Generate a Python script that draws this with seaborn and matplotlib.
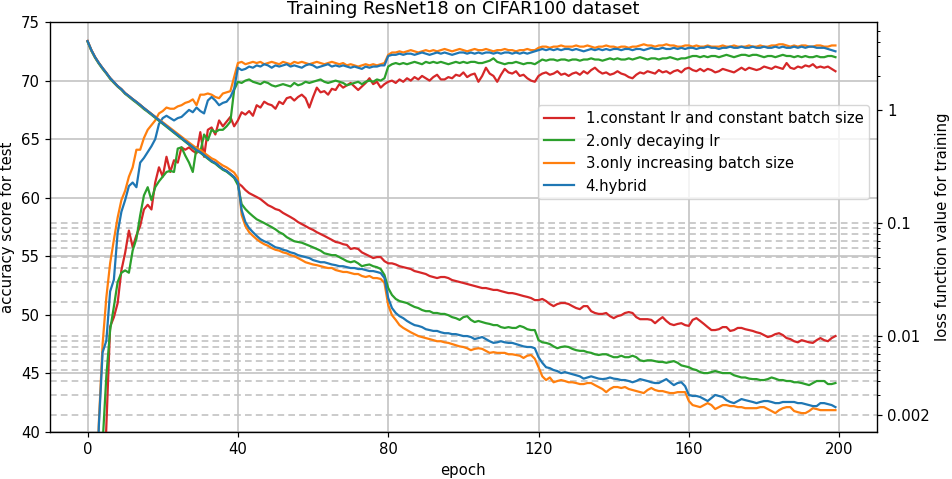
import matplotlib
matplotlib.use("Agg")
import matplotlib.pyplot as plt
import matplotlib.transforms as mtransforms
from matplotlib.lines import Line2D
from matplotlib.ticker import FixedLocator, FixedFormatter, NullFormatter
import pandas as pd
import seaborn as sns

methods = ["1.constant lr and constant batch size", "2.only decaying lr",
           "3.only increasing batch size", "4.hybrid"]
colors = ["#d62728", "#2ca02c", "#ff7f0e", "#1f77b4"]
epochs = list(range(200))

acc_constant = [
    8, 14, 20, 26, 32, 40.5, 49.0, 49.8, 51.0, 53.8,
    55.3, 57.2, 55.8, 56.8, 57.6, 59.0, 59.4, 59.0, 61.3, 62.6,
    61.8, 63.5, 62.2, 63.2, 63.0, 64.3, 64.1, 64.3, 64.0, 63.8,
    65.6, 63.5, 65.8, 66.0, 65.4, 66.6, 66.1, 66.5, 66.9, 66.1,
    66.6, 67.3, 67.1, 67.4, 67.0, 67.9, 67.7, 68.2, 68.0, 67.9,
    67.6, 68.2, 68.0, 68.5, 68.6, 68.3, 68.6, 68.8, 68.5, 67.7,
    68.6, 69.4, 69.0, 69.1, 68.8, 69.3, 69.2, 69.7, 69.4, 69.6,
    69.8, 69.5, 69.2, 69.5, 69.8, 70.2, 69.7, 69.9, 69.4, 69.7,
    69.9, 70.0, 69.8, 70.1, 69.9, 70.2, 70.0, 70.3, 70.1, 70.4,
    70.2, 70.0, 70.3, 70.5, 70.1, 70.1, 70.3, 70.2, 70.5, 70.4,
    70.7, 70.3, 70.5, 70.6, 69.9, 70.4, 71.1, 70.6, 70.4, 69.9,
    70.5, 71.0, 70.7, 70.6, 70.8, 70.4, 70.5, 70.2, 70.0, 69.9,
    70.4, 70.6, 70.7, 70.5, 70.6, 70.8, 70.5, 70.6, 70.4, 70.6,
    70.7, 70.5, 70.8, 70.6, 70.9, 71.1, 70.8, 70.6, 70.7, 70.5,
    70.6, 70.8, 70.6, 70.5, 70.3, 70.2, 70.5, 70.7, 70.6, 70.8,
    70.7, 70.6, 70.9, 70.7, 70.8, 70.6, 70.8, 70.9, 70.7, 71.0,
    71.1, 70.9, 70.8, 71.0, 70.8, 71.0, 70.9, 70.7, 70.8, 71.0,
    70.9, 70.8, 70.7, 70.9, 71.1, 70.9, 71.1, 71.0, 70.9, 71.0,
    71.2, 71.1, 71.0, 71.2, 71.1, 71.0, 71.5, 71.1, 71.0, 71.2,
    71.1, 71.3, 71.2, 71.4, 71.1, 71.2, 71.1, 71.2, 71.0, 70.8,
]
acc_decay = [
    10, 17, 24, 31, 39, 44.8, 48.7, 50.7, 52.8, 53.6,
    53.8, 53.6, 55.5, 56.5, 58.5, 60.2, 60.9, 59.8, 60.9, 61.4,
    61.8, 62.2, 62.3, 62.2, 64.2, 64.3, 63.6, 63.0, 62.2, 64.3,
    63.9, 65.4, 64.9, 65.8, 65.6, 65.8, 65.8, 66.1, 66.5, 69.2,
    69.9, 69.8, 70.0, 70.1, 69.9, 69.8, 69.7, 69.9, 69.8, 69.6,
    69.5, 69.6, 69.7, 69.6, 69.5, 69.8, 69.6, 69.7, 69.9, 69.8,
    69.9, 70.0, 70.1, 69.9, 69.8, 69.9, 70.0, 69.9, 69.8, 69.6,
    69.7, 69.8, 69.9, 69.7, 69.9, 70.0, 69.9, 70.1, 70.0, 70.2,
    71.2, 71.4, 71.5, 71.4, 71.5, 71.4, 71.5, 71.6, 71.5, 71.4,
    71.6, 71.5, 71.6, 71.5, 71.6, 71.5, 71.4, 71.5, 71.6, 71.5,
    71.6, 71.5, 71.6, 71.6, 71.5, 71.5, 71.6, 71.7, 71.9, 71.6,
    71.5, 71.4, 71.5, 71.5, 71.6, 71.5, 71.4, 71.5, 71.5, 71.4,
    71.6, 71.8, 71.7, 71.8, 71.8, 71.7, 71.8, 71.8, 71.7, 71.8,
    71.8, 71.7, 71.8, 71.8, 71.9, 71.8, 71.8, 71.7, 71.8, 71.9,
    71.8, 71.9, 71.8, 71.8, 71.9, 71.8, 71.9, 72.0, 71.9, 71.8,
    71.9, 71.9, 71.8, 71.9, 71.9, 72.0, 71.9, 71.8, 71.9, 71.9,
    72.0, 72.1, 72.1, 72.0, 72.1, 72.0, 72.1, 72.1, 72.0, 72.1,
    72.2, 72.1, 72.0, 72.1, 72.2, 72.2, 72.1, 72.2, 72.2, 72.1,
    72.0, 72.1, 72.1, 72.0, 72.1, 72.2, 72.1, 72.1, 72.0, 72.1,
    72.0, 72.1, 72.0, 72.0, 72.1, 72.0, 72.0, 72.1, 72.1, 72.0,
]
acc_batch = [
    14, 22, 31, 40.8, 47.5, 51.5, 54.4, 56.4, 58.3, 59.8,
    60.6, 61.8, 62.6, 64.1, 64.1, 65.1, 65.8, 66.2, 66.6, 67.2,
    67.4, 67.7, 67.6, 67.6, 67.8, 67.9, 68.1, 68.2, 68.4, 67.9,
    68.8, 68.8, 68.9, 68.8, 68.6, 68.5, 68.9, 69.0, 69.1, 70.3,
    71.5, 71.6, 71.4, 71.5, 71.6, 71.5, 71.6, 71.4, 71.5, 71.6,
    71.5, 71.4, 71.6, 71.5, 71.4, 71.6, 71.5, 71.6, 71.5, 71.4,
    71.5, 71.6, 71.5, 71.4, 71.5, 71.6, 71.5, 71.4, 71.5, 71.3,
    71.4, 71.3, 71.2, 71.3, 71.4, 71.3, 71.4, 71.3, 71.4, 71.5,
    72.2, 72.4, 72.4, 72.5, 72.4, 72.5, 72.6, 72.5, 72.4, 72.5,
    72.6, 72.5, 72.6, 72.5, 72.6, 72.7, 72.6, 72.5, 72.6, 72.7,
    72.6, 72.5, 72.6, 72.7, 72.6, 72.6, 72.7, 72.6, 72.5, 72.6,
    72.6, 72.7, 72.6, 72.6, 72.5, 72.6, 72.6, 72.7, 72.6, 72.6,
    72.8, 72.9, 72.9, 72.8, 72.9, 72.9, 73.0, 72.9, 72.9, 72.9,
    73.0, 72.9, 72.9, 73.0, 72.9, 72.8, 72.9, 72.9, 73.0, 72.9,
    72.9, 72.8, 72.9, 72.9, 72.8, 72.9, 72.9, 73.0, 73.1, 73.0,
    73.0, 72.9, 73.0, 73.0, 73.1, 73.0, 73.0, 72.9, 72.9, 73.0,
    73.0, 72.9, 73.0, 72.9, 72.9, 73.0, 72.9, 72.9, 72.9, 73.0,
    72.9, 72.9, 73.0, 72.9, 72.9, 72.9, 73.0, 72.9, 72.9, 73.0,
    72.9, 72.9, 73.0, 73.0, 73.1, 73.1, 73.0, 72.9, 73.0, 72.9,
    73.0, 73.0, 72.9, 72.9, 73.0, 73.0, 72.9, 72.9, 73.0, 73.0,
]
acc_hybrid = [
    12, 20, 30, 40.5, 46.8, 47.8, 52.0, 53.0, 57.0, 58.8,
    59.8, 61.0, 61.3, 60.9, 63.0, 63.4, 63.9, 64.4, 65.0, 66.3,
    66.8, 67.0, 66.8, 66.6, 66.8, 66.9, 67.2, 67.5, 67.3, 67.7,
    67.4, 67.2, 68.3, 68.6, 68.3, 67.9, 68.1, 68.2, 68.6, 69.3,
    71.1, 70.9, 71.0, 71.2, 71.1, 71.3, 71.2, 71.4, 71.3, 71.1,
    71.3, 71.2, 71.3, 71.4, 71.2, 71.3, 71.2, 71.1, 71.3, 71.4,
    71.3, 71.1, 71.2, 71.3, 71.4, 71.2, 71.3, 71.2, 71.3, 71.2,
    71.1, 71.2, 71.1, 71.0, 71.2, 71.1, 71.2, 71.2, 71.3, 71.3,
    72.1, 72.2, 72.2, 72.3, 72.2, 72.3, 72.3, 72.2, 72.3, 72.4,
    72.3, 72.2, 72.3, 72.4, 72.3, 72.4, 72.3, 72.2, 72.3, 72.4,
    72.4, 72.3, 72.4, 72.3, 72.4, 72.3, 72.4, 72.4, 72.3, 72.4,
    72.3, 72.4, 72.4, 72.3, 72.4, 72.3, 72.4, 72.3, 72.4, 72.5,
    72.6, 72.7, 72.6, 72.7, 72.6, 72.7, 72.6, 72.7, 72.7, 72.6,
    72.7, 72.6, 72.5, 72.6, 72.7, 72.6, 72.7, 72.6, 72.7, 72.6,
    72.7, 72.7, 72.6, 72.7, 72.7, 72.6, 72.7, 72.7, 72.6, 72.7,
    72.8, 72.7, 72.7, 72.8, 72.7, 72.7, 72.8, 72.7, 72.8, 72.7,
    72.8, 72.8, 72.7, 72.8, 72.8, 72.9, 72.8, 72.8, 72.7, 72.8,
    72.8, 72.9, 72.8, 72.8, 72.9, 72.8, 72.8, 72.9, 72.8, 72.8,
    72.9, 72.8, 72.8, 72.9, 72.8, 72.9, 72.8, 72.8, 72.9, 72.8,
    72.9, 72.8, 72.9, 72.9, 72.8, 72.8, 72.8, 72.7, 72.6, 72.5,
]

loss_constant = [
    4.08, 3.40, 2.94, 2.61, 2.35, 2.13, 1.92, 1.77, 1.63, 1.53,
    1.41, 1.33, 1.25, 1.18, 1.11, 1.04, 0.98, 0.922, 0.867, 0.816,
    0.767, 0.722, 0.679, 0.639, 0.601, 0.565, 0.532, 0.500, 0.471, 0.443,
    0.425, 0.400, 0.376, 0.354, 0.340, 0.319, 0.301, 0.289, 0.272, 0.255,
    0.226, 0.213, 0.196, 0.184, 0.177, 0.170, 0.163, 0.153, 0.144, 0.139,
    0.133, 0.130, 0.123, 0.118, 0.113, 0.108, 0.102, 0.098, 0.094, 0.090,
    0.087, 0.083, 0.080, 0.077, 0.074, 0.071, 0.068, 0.067, 0.065, 0.064,
    0.059, 0.060, 0.059, 0.055, 0.053, 0.051, 0.049, 0.050, 0.050, 0.046,
    0.044, 0.044, 0.043, 0.0415, 0.0407, 0.0400, 0.0392, 0.0376, 0.0369, 0.0361,
    0.0354, 0.0340, 0.0333, 0.0326, 0.0333, 0.0333, 0.0326, 0.0313, 0.0307, 0.0301,
    0.0295, 0.0289, 0.0283, 0.0277, 0.0272, 0.0266, 0.0266, 0.0261, 0.0256, 0.0256,
    0.0250, 0.0245, 0.0240, 0.0240, 0.0236, 0.0231, 0.0226, 0.0222, 0.0217, 0.0208,
    0.0208, 0.0213, 0.0204, 0.0192, 0.0184, 0.0192, 0.0196, 0.0196, 0.0192, 0.0184,
    0.0177, 0.0173, 0.0184, 0.0184, 0.0166, 0.0160, 0.0157, 0.0157, 0.0160, 0.0150,
    0.0144, 0.0150, 0.0153, 0.0160, 0.0163, 0.0160, 0.0147, 0.0141, 0.0141, 0.0141,
    0.0139, 0.0130, 0.0139, 0.0147, 0.0136, 0.0128, 0.0125, 0.0128, 0.0130, 0.0125,
    0.0123, 0.0139, 0.0144, 0.0136, 0.0128, 0.0120, 0.0113, 0.0113, 0.0115, 0.0120,
    0.0120, 0.0111, 0.0113, 0.0118, 0.0118, 0.0115, 0.0113, 0.0111, 0.0108, 0.0106,
    0.0102, 0.0098, 0.0100, 0.0104, 0.0106, 0.0102, 0.0096, 0.0094, 0.0090, 0.0088,
    0.0092, 0.0090, 0.0088, 0.0087, 0.0092, 0.0096, 0.0092, 0.0090, 0.0096, 0.0100,
]
loss_decay = [
    4.02, 3.35, 2.90, 2.57, 2.31, 2.10, 1.89, 1.74, 1.61, 1.51,
    1.39, 1.31, 1.23, 1.16, 1.09, 1.02, 0.965, 0.908, 0.854, 0.804,
    0.756, 0.711, 0.669, 0.629, 0.592, 0.557, 0.524, 0.493, 0.464, 0.436,
    0.419, 0.394, 0.370, 0.349, 0.335, 0.314, 0.296, 0.285, 0.268, 0.251,
    0.217, 0.147, 0.133, 0.123, 0.115, 0.108, 0.104, 0.100, 0.096, 0.092,
    0.088, 0.083, 0.080, 0.075, 0.072, 0.069, 0.068, 0.067, 0.065, 0.063,
    0.061, 0.059, 0.057, 0.054, 0.053, 0.052, 0.052, 0.050, 0.048, 0.046,
    0.045, 0.046, 0.044, 0.0415, 0.0424, 0.043, 0.0415, 0.0407, 0.0392, 0.0347,
    0.0266, 0.0231, 0.0213, 0.0204, 0.0200, 0.0196, 0.0188, 0.0181, 0.0177, 0.0170,
    0.0166, 0.0166, 0.0160, 0.0160, 0.0157, 0.0157, 0.0153, 0.0147, 0.0144, 0.0139,
    0.0147, 0.0150, 0.0139, 0.0133, 0.0136, 0.0133, 0.0130, 0.0128, 0.0125, 0.0125,
    0.0120, 0.0118, 0.0120, 0.0118, 0.0118, 0.0123, 0.0120, 0.0115, 0.0113, 0.0113,
    0.0092, 0.0088, 0.0087, 0.0085, 0.0081, 0.0078, 0.0080, 0.0081, 0.0080, 0.0077,
    0.0075, 0.0074, 0.0074, 0.0072, 0.0071, 0.0069, 0.0068, 0.0069, 0.0069, 0.0067,
    0.0065, 0.0065, 0.0067, 0.0065, 0.0065, 0.0067, 0.0065, 0.0061, 0.0060, 0.0061,
    0.0061, 0.0060, 0.0059, 0.0059, 0.0058, 0.0059, 0.0060, 0.0058, 0.0055, 0.0054,
    0.0053, 0.0051, 0.0050, 0.0048, 0.0047, 0.0047, 0.0048, 0.0049, 0.0048, 0.0047,
    0.0047, 0.0047, 0.0045, 0.0044, 0.0043, 0.0043, 0.0042, 0.00416, 0.00416, 0.00408,
    0.00408, 0.00416, 0.0043, 0.0042, 0.00408, 0.00408, 0.0040, 0.0040, 0.0039, 0.0039,
    0.00384, 0.00376, 0.00368, 0.00384, 0.0040, 0.0040, 0.0040, 0.00376, 0.00376, 0.00384,
]
loss_batch = [
    4.08, 3.40, 2.94, 2.61, 2.35, 2.13, 1.92, 1.77, 1.63, 1.53,
    1.41, 1.33, 1.25, 1.18, 1.11, 1.04, 0.98, 0.925, 0.872, 0.822,
    0.780, 0.735, 0.693, 0.652, 0.615, 0.580, 0.547, 0.516, 0.487, 0.460,
    0.443, 0.419, 0.396, 0.374, 0.361, 0.340, 0.323, 0.311, 0.295, 0.280,
    0.250, 0.118, 0.094, 0.083, 0.077, 0.072, 0.068, 0.065, 0.063, 0.060,
    0.058, 0.057, 0.055, 0.054, 0.052, 0.051, 0.049, 0.047, 0.045, 0.044,
    0.043, 0.0424, 0.0415, 0.0407, 0.0400, 0.0400, 0.0384, 0.0376, 0.0369, 0.0369,
    0.0361, 0.0354, 0.0354, 0.0340, 0.0333, 0.0340, 0.0326, 0.0326, 0.0320, 0.0295,
    0.0188, 0.0153, 0.0139, 0.0125, 0.0118, 0.0113, 0.0108, 0.0104, 0.0100, 0.0098,
    0.0096, 0.0094, 0.0092, 0.0090, 0.0090, 0.0088, 0.0087, 0.0085, 0.0083, 0.0081,
    0.0080, 0.0078, 0.0075, 0.0077, 0.0078, 0.0077, 0.0074, 0.0071, 0.0072, 0.0071,
    0.0071, 0.0071, 0.0069, 0.0069, 0.0068, 0.0067, 0.0064, 0.0067, 0.0068, 0.0063,
    0.0053, 0.0044, 0.00408, 0.0043, 0.0039, 0.0040, 0.00408, 0.0040, 0.0039, 0.0039,
    0.00384, 0.00376, 0.00376, 0.00384, 0.00384, 0.00368, 0.00354, 0.00340, 0.00319, 0.00340,
    0.00354, 0.00354, 0.00347, 0.00354, 0.00340, 0.00333, 0.00326, 0.00319, 0.00313, 0.00333,
    0.00347, 0.00333, 0.00326, 0.00326, 0.00319, 0.00313, 0.00313, 0.00319, 0.00319, 0.00319,
    0.00266, 0.00245, 0.00240, 0.00235, 0.00245, 0.00255, 0.00245, 0.00226, 0.00235, 0.00245,
    0.00245, 0.00240, 0.00240, 0.00235, 0.00235, 0.00230, 0.00230, 0.00230, 0.00230, 0.00235,
    0.00235, 0.00226, 0.00217, 0.00208, 0.00221, 0.00230, 0.00235, 0.00235, 0.00217, 0.00212,
    0.00208, 0.00208, 0.00217, 0.00230, 0.00226, 0.00221, 0.00221, 0.00221, 0.00221, 0.00221,
]
loss_hybrid = [
    4.08, 3.40, 2.94, 2.61, 2.35, 2.13, 1.92, 1.77, 1.63, 1.53,
    1.41, 1.33, 1.25, 1.18, 1.11, 1.04, 0.98, 0.922, 0.867, 0.816,
    0.767, 0.722, 0.679, 0.639, 0.601, 0.565, 0.532, 0.500, 0.471, 0.443,
    0.425, 0.400, 0.376, 0.354, 0.340, 0.319, 0.301, 0.289, 0.272, 0.255,
    0.231, 0.130, 0.102, 0.090, 0.083, 0.077, 0.072, 0.069, 0.067, 0.064,
    0.061, 0.060, 0.058, 0.057, 0.055, 0.054, 0.052, 0.051, 0.050, 0.049,
    0.047, 0.046, 0.045, 0.045, 0.044, 0.043, 0.0424, 0.0415, 0.0415, 0.0407,
    0.0400, 0.0400, 0.0392, 0.0392, 0.0384, 0.0376, 0.0376, 0.0369, 0.0361, 0.0326,
    0.0217, 0.0177, 0.0160, 0.0150, 0.0144, 0.0136, 0.0130, 0.0125, 0.0123, 0.0120,
    0.0115, 0.0113, 0.0111, 0.0111, 0.0108, 0.0106, 0.0106, 0.0104, 0.0104, 0.0102,
    0.0100, 0.0100, 0.0098, 0.0094, 0.0096, 0.0098, 0.0094, 0.0090, 0.0087, 0.0088,
    0.0090, 0.0088, 0.0087, 0.0087, 0.0085, 0.0083, 0.0081, 0.0080, 0.0080, 0.0078,
    0.0065, 0.0058, 0.0053, 0.0052, 0.0050, 0.0049, 0.0047, 0.0048, 0.0047, 0.0046,
    0.0045, 0.0044, 0.0042, 0.0043, 0.0044, 0.0043, 0.0042, 0.00416, 0.0042, 0.0043,
    0.0042, 0.00416, 0.00408, 0.00408, 0.0040, 0.0039, 0.0040, 0.00416, 0.00408, 0.0040,
    0.0039, 0.00384, 0.00384, 0.0040, 0.00416, 0.0039, 0.00368, 0.00384, 0.0039, 0.0036,
    0.00301, 0.00295, 0.00295, 0.00289, 0.00277, 0.00266, 0.00283, 0.00301, 0.00295, 0.00289,
    0.00271, 0.00261, 0.00255, 0.00266, 0.00277, 0.00271, 0.00266, 0.00261, 0.00255, 0.00261,
    0.00266, 0.00266, 0.00261, 0.00255, 0.00255, 0.00261, 0.00261, 0.00261, 0.00261, 0.00255,
    0.00255, 0.00250, 0.00245, 0.00240, 0.00240, 0.00255, 0.00255, 0.00250, 0.00245, 0.00235,
]

x_ticks = [0, 40, 80, 120, 160, 200]
acc_ticks = [40, 45, 50, 55, 60, 65, 70, 75]
loss_ticks = [0.002, 0.01, 0.1, 1]
loss_tick_labels = ["0.002", "0.01", "0.1", "1"]
loss_minor_ticks = [0.003, 0.004, 0.005, 0.006, 0.007, 0.008, 0.009,
                    0.02, 0.03, 0.04, 0.05, 0.06, 0.07, 0.08, 0.09,
                    2, 3, 4, 5]
loss_grid = [0.002, 0.003, 0.004, 0.005, 0.006, 0.007, 0.008, 0.009,
             0.01, 0.02, 0.03, 0.04, 0.05, 0.06, 0.07, 0.08, 0.09, 0.1]

acc_series = [acc_constant, acc_decay, acc_batch, acc_hybrid]
loss_series = [loss_constant, loss_decay, loss_batch, loss_hybrid]
for s in acc_series + loss_series:
    assert len(s) == 200, len(s)

df_acc = pd.DataFrame({
    "epoch": epochs * 4,
    "value": [v for s in acc_series for v in s],
    "method": [m for m in methods for _ in epochs],
})
df_loss = pd.DataFrame({
    "epoch": epochs * 4,
    "value": [v for s in loss_series for v in s],
    "method": [m for m in methods for _ in epochs],
})

plt.rcParams.update({
    "font.family": ["DejaVu Sans"],
    "font.size": 10.7,
    "axes.titlesize": 12.8,
    "axes.linewidth": 0.86,
    "xtick.major.size": 3.75, "ytick.major.size": 3.75,
    "ytick.minor.size": 2.1,
    "xtick.major.width": 0.86, "ytick.major.width": 0.86,
    "ytick.minor.width": 0.7,
})

fig, ax = plt.subplots(figsize=(9.52, 4.79), dpi=100)
fig.subplots_adjust(left=0.0525, right=0.921, top=0.954, bottom=0.098)
ax2 = ax.twinx()
ax2.set_yscale("log")
ax2.set_ylim(0.001414, 6.01)

# dashed grid of the loss axis, drawn beneath the accuracy curves
trans = mtransforms.blended_transform_factory(ax.transAxes, ax2.transData)
for v in loss_grid:
    ax.plot([0, 1], [v, v], transform=trans, color="#c2c2c2", lw=1.2,
            ls=(0, (4, 2.5)), zorder=1)

ax.grid(True, color="#c4c4c4", lw=1.2, zorder=1)

sns.lineplot(data=df_acc, x="epoch", y="value", hue="method", hue_order=methods,
             palette=colors, ax=ax, legend=False, errorbar=None, linewidth=1.6)
sns.lineplot(data=df_loss, x="epoch", y="value", hue="method", hue_order=methods,
             palette=colors, ax=ax2, legend=False, errorbar=None, linewidth=1.6)

ax.set_xlim(-10, 210)
ax.set_xticks(x_ticks)
ax.set_ylim(40, 75)
ax.set_yticks(acc_ticks)
ax2.set_ylim(0.001414, 6.01)
ax2.yaxis.set_major_locator(FixedLocator(loss_ticks))
ax2.yaxis.set_major_formatter(FixedFormatter(loss_tick_labels))
ax2.yaxis.set_minor_locator(FixedLocator(loss_minor_ticks))
ax2.yaxis.set_minor_formatter(NullFormatter())

ax.set_xlabel("epoch")
ax.set_ylabel("accuracy score for test")
ax2.set_ylabel("loss function value for training")
ax.set_title("Training ResNet18 on CIFAR100 dataset")

handles = [Line2D([0], [0], color=c, lw=1.6) for c in colors]
ax2.legend(handles=handles, labels=methods, loc="upper right",
           bbox_to_anchor=(1.0, 0.815))

fig.savefig("out.png", dpi=100)
